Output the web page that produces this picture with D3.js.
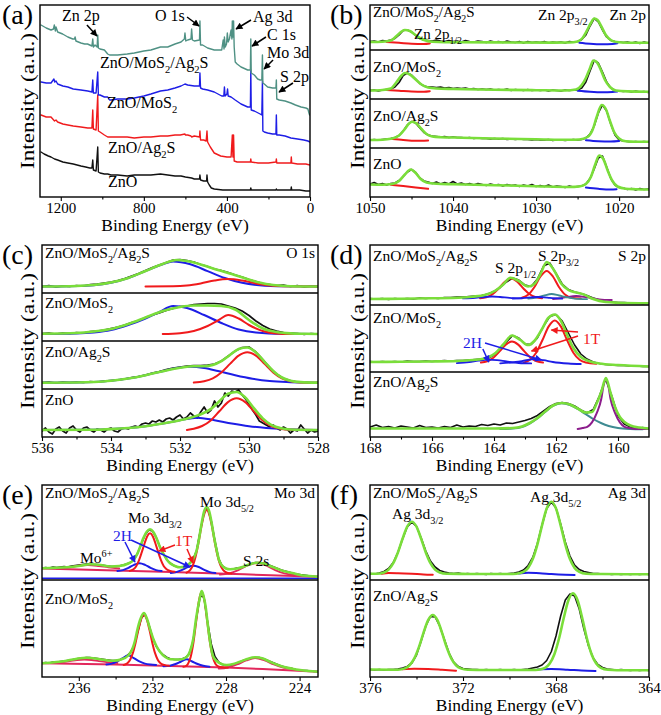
<!DOCTYPE html>
<html>
<head>
<meta charset="utf-8">
<script src="https://cdn.jsdelivr.net/npm/d3@7"></script>
<style>
  body { margin: 0; background: #fff; }
  svg { display: block; }
</style>
</head>
<body>
<svg id="chart" width="661" height="715" font-family="Liberation Serif, DejaVu Serif, serif"></svg>
<script>
// *** Data (binding energy in eV, intensity in arbitrary units, stacked per panel) ***

// helper: values read on a regular binding-energy grid
function grid(start, step, vals) {
  return vals.map((v, i) => [+(start - i * step).toFixed(2), v]);
}

// (a) survey
var surveyNames = ["ZnO/MoS{2}/Ag{2}S", "ZnO/MoS{2}", "ZnO/Ag{2}S", "ZnO"];
var surveyTicks = [1200, 800, 400, 0];
var surveyMinor = [1000, 600, 200];
var surveyTeal = [[1295,172],[1270,169],[1247,167],[1235,168],[1231,172],[1226,166],[1223,170],[1215,165],[1191,163],[1166,160],[1142,158],[1134,158],[1131,160],[1127,156],[1103,154],[1085,153],[1071,153],[1050,151],[1046,158],[1043,150],[1035,152],[1025,150],[1022,162],[1019,149],[1011,148],[990,147],[974,143],[965,142],[958,142],[926,142],[880,143],[846,144],[800,146],[766,147],[720,150],[685,150],[650,153],[621,155],[605,158],[602,164],[598,156],[589,157],[573,158],[570,168],[566,157],[557,156],[532,157],[530,176],[527,152],[517,152],[493,149],[461,147],[425,147],[418,157],[414,148],[412,160],[408,150],[402,153],[398,164],[394,155],[388,158],[380,167],[376,158],[374,176],[371,160],[368,176],[365,150],[360,135],[351,133],[332,130],[300,127],[287,127],[285,158],[283,124],[268,122],[252,118],[240,117],[232,117],[229,142],[227,114],[220,113],[204,110],[180,109],[164,109],[162,117],[160,98],[148,97],[120,96],[92,94],[70,92],[43,90],[20,89],[10,88],[5,84],[2,82],[0,82]];
var surveyBlue = [[1295,115],[1270,114],[1247,114],[1233,118],[1229,115],[1223,116],[1215,113],[1190,111],[1166,110],[1140,108],[1103,107],[1070,106],[1050,105],[1046,117],[1043,104],[1030,104],[1022,125],[1019,102],[1011,102],[990,100],[974,100],[965,97],[958,97],[926,98],[880,98],[846,99],[800,101],[766,103],[720,106],[685,107],[650,109],[621,111],[602,113],[589,112],[557,111],[532,111],[530,124],[527,109],[517,108],[493,107],[461,105],[425,101],[415,101],[412,110],[409,101],[400,103],[397,108],[394,101],[380,100],[360,97],[332,93],[300,90],[287,90],[285,127],[283,87],[268,86],[240,83],[232,82],[229,116],[227,66],[220,65],[204,64],[180,63],[164,63],[162,82],[160,62],[148,62],[120,61],[92,59],[60,58],[30,57],[10,56],[0,55]];
var surveyRed = [[1295,82],[1270,80],[1247,80],[1230,76],[1223,77],[1215,75],[1190,73],[1166,72],[1140,71],[1103,70],[1070,69],[1050,69],[1046,87],[1043,68],[1030,67],[1022,102],[1019,66],[1011,65],[990,62],[974,60],[958,60],[926,60],[880,60],[846,59],[800,60],[766,60],[720,61],[685,61],[650,62],[625,62],[602,63],[600,62],[589,62],[573,61],[570,60],[557,61],[532,60],[530,66],[527,57],[512,57],[500,56],[496,66],[493,55],[480,50],[461,44],[430,41],[400,40],[380,40],[374,62],[371,40],[368,62],[365,36],[351,35],[320,35],[287,35],[285,38],[283,35],[250,34],[220,34],[200,34],[164,35],[162,38],[160,34],[140,34],[92,34],[90,40],[88,34],[60,33],[20,33],[0,32]];
var surveyBlack = [[1295,45],[1280,43],[1260,41],[1247,40],[1230,38],[1215,37],[1190,35],[1166,34],[1140,33],[1103,31],[1080,30],[1060,29],[1050,29],[1046,37],[1043,27],[1030,26],[1022,50],[1019,25],[1011,24],[990,23],[974,23],[958,22],[926,22],[880,21],[846,22],[800,22],[766,22],[720,23],[685,22],[650,21],[621,21],[600,20],[570,19],[557,18],[532,18],[530,22],[527,17],[512,16],[498,16],[496,22],[493,15],[485,12],[475,9],[461,8],[420,7],[380,7],[340,7],[300,7],[287,7],[285,9],[283,7],[250,7],[200,7],[164,7],[162,8],[160,7],[120,7],[92,7],[90,10],[88,7],[50,7],[20,6],[0,6]];

// (b) Zn 2p
var sampleNames4 = ["ZnO/MoS{2}/Ag{2}S", "ZnO/MoS{2}", "ZnO/Ag{2}S", "ZnO"];
var znTicks = [1050, 1040, 1030, 1020];
var znMinor = [1045, 1035, 1025];
var znBlack1 = [155.5,156,155,156.5,156,157,158.5, 162,166.5,167,165,161.5,158.5,157,156.5,156,157,156,155.5,156.5,155.5, 156,155,156.5,155.5,155,156,155.5,154.5,156,155, 155.5,154.5,156,155,154.5,155.5,154,155.5,154.5,155, 154.5,155.5,154,155,154.5,155,154,155.5,155,155.5, 157.5,162,171,178.5,175,167,160,156.5,155.5,155, 154.5,155,154,155,153.5,155,154];
var znBlack2 = [106.5,107,106,107,107.5,108,110, 114.5,121.5,124,122,118,113.5,111,110,110,109.5,110,109,109.5,108.5, 109,108.5,109,108,108.5,107.5,108,107.5,108,107, 107.5,107,108,106.5,107.5,107,106.5,107.5,106.5,107, 106.5,107,106,107,106.5,106,107,106.5,107,107, 109,115,126,136.5,134,125,115,109,106.5,106, 105.5,106,105,106,105,105.5,104.5];
var znBlack3 = [57,57.5,57,57.5,58,58.5,59.5, 61.5,66,72,75.5,74,69,64.5,62,61,60.5,60,60.5,59.5,60, 59.5,59.5,59,59.5,58.5,59,58.5,58.5,58,58.5, 58,58.5,57.5,58,57.5,58,57.5,57.5,57,57.5, 57,57,57.5,56.5,57,57,56.5,57,57.5,57, 57.5,59,63,71,84,92,86,73,62,57, 56,55.5,55,55.5,55,55.5,55];
var znBlack4 = [13,14.5,12.5,13.5,12,13.5,14, 16.5,20.5,25,27.5,24.5,19,16,15,13.5,15,13,14.5,13,15.5, 13,14,12.5,13.5,12,13.5,12.5,11.5,13,12, 12.5,11,12.5,11.5,12,10.5,12,11,12.5,10.5, 11.5,10.5,12,10,11,10.5,9.5,11,10,10.5, 11,13,18.5,28,39,41,30,18.5,12,9.5, 9,7.5,8.5,7,8.5,7.5,8];
var znFit1 = [[1050,155],[1048.5,155.3],[1047.5,156.5],[1046.8,161],[1046.2,165.5],[1045.8,167],[1045.2,166],[1044.6,162.5],[1044,159],[1043.3,156.5],[1042.5,155.2],[1041,154.8],[1035,154.6],[1028,154.4],[1026,154.5],[1025,155.5],[1024.4,159],[1023.9,166],[1023.4,174],[1023,178.5],[1022.6,177],[1022.1,170],[1021.6,162],[1021,157],[1020.3,155],[1019,154.3],[1016.4,154.2]];
var znFit2 = [[1050,106.5],[1048.5,107],[1047.5,108.5],[1046.8,115],[1046.2,121.5],[1045.8,124],[1045.2,122.5],[1044.5,117.5],[1043.8,112.5],[1043,109.5],[1042,108.5],[1040,108],[1035,107.3],[1030,106.8],[1026.5,106.5],[1025.2,107.5],[1024.5,112],[1024,119],[1023.5,129],[1023.1,136.5],[1022.7,135],[1022.2,127],[1021.7,117],[1021.1,110],[1020.4,106.5],[1019,105.6],[1016.4,105.3]];
var znFit3 = [[1050,57],[1048.5,57.3],[1047.5,58.2],[1046.5,61.5],[1045.8,68],[1045.3,73.5],[1044.9,75.3],[1044.4,73.5],[1043.8,68],[1043.2,63],[1042.5,60.5],[1041.5,59.8],[1039,59.3],[1035,58.5],[1030,57.8],[1026,57.2],[1024.8,57.5],[1023.8,60],[1023.2,67],[1022.7,80],[1022.1,92],[1021.6,88],[1021.1,76],[1020.6,65],[1020,58.5],[1019.2,55.8],[1018,55.3],[1016.4,55.3]];
var znFit4 = [[1050,12.5],[1048.5,12.3],[1047.3,13],[1046.5,16],[1045.8,22.5],[1045.1,27.5],[1044.5,24],[1043.9,18],[1043.2,14.5],[1042,13.3],[1040,12.8],[1035,11.8],[1030,10.8],[1026,10],[1024.8,10.5],[1024,13],[1023.4,20],[1022.9,32],[1022.4,41.5],[1021.9,38],[1021.4,27],[1020.8,16],[1020.2,10.5],[1019.2,8.3],[1018,7.8],[1016.4,7.5]];
var znRed1 = [[1048,155],[1046.5,154.2],[1045,153.3],[1043.5,153],[1042.8,153.5]];
var znRed2 = [[1048,107],[1046.5,106.3],[1045,105.5],[1043.5,105.3],[1042.8,105.8]];
var znRed3 = [[1047.3,58],[1046,57],[1044.5,56.2],[1043,56.5]];
var znRed4 = [[1047.5,12.3],[1046,11],[1044.5,9.5],[1043,8.2]];
var znBlue1 = [[1024.8,154.3],[1023.5,153.3],[1022,152.8],[1020.8,153],[1020.2,153.8]];
var znBlue2 = [[1025,106.3],[1023.5,105.3],[1022,104.8],[1020.8,105],[1020.2,105.5]];
var znBlue3 = [[1024,56.8],[1022.5,55.8],[1021,55.5],[1020,56]];
var znBlue4 = [[1024,9.5],[1022.5,8.2],[1021,7.5],[1020.3,7.8]];

// (c) O 1s
var oTicks = [536, 534, 532, 530, 528];
var oMinor = [535, 533, 531, 529];
var oBlack1 = [150.5,151.5,150,151,150.5,151.5,151,152.5,153,154, 155,156.5,158.5,161,163.5,166.5,169.5,172,174.5,177, 177.5,176.5,175,172.5,170.5,168,166.5,164.5,162,160, 157.5,155.5,153.5,152.5,151.5,152,150.5,151.5,150,151,150.5];
var oBlack2 = [103.5,104,103,104,103.5,104.5,104,105.5,106,107, 108.5,110,112,114.5,116.5,119.5,122,124,126.5,128.5, 130.5,131,132.5,133,133.5,133.5,133,131,129,126, 121.5,116,111.5,108,106,104.5,104,103.5,102.5,103.5,103];
var oBlack3 = [54.5,55,54,55,54.5,55,54.5,55.5,55,56, 56.5,57,58,59.5,60.5,62,64,65.5,67.5,69, 70,71,71.5,71.5,72,73,76,81,86,89.5, 90,85,77.5,69.5,63,58.5,56.5,55,55,54,54.5];
var oBlack4 = [6,9,5,3,8,10,6,4,9,11, 7,5,9,10,7,5,8,7,5,8, 9,6,5,8,9,8,10,11,10,13, 14,13,16,15,17,15,18,19,17,20, 22,18,20,24,21,19,25,30,24,27, 36,30,34,44,41,46,45,47,42,38, 33,27,22,16,14,12,10,12,9,7, 10,8,4,7,6,12,8,4,7,5, 6];
var oFit1 = [[536,150.5],[535,151],[534.5,152],[534,154.5],[533.5,159],[533,166],[532.5,173],[532.1,177],[531.8,176],[531.3,171.5],[530.9,167],[530.5,163],[530.1,158.5],[529.7,154.5],[529.3,152],[528.8,150.8],[528,150.5]];
var oBlue1 = [[536,150.5],[535.5,150.6],[534.5,151.8],[534,154.2],[533.5,159],[533,165.9],[532.5,172.7],[532.2,175.5],[531.7,172.7],[531.2,165.9],[530.7,159],[530.2,154.2],[529.7,151.8],[529,150.7],[528,150.5]];
var oRed1 = [[533,150.5],[532.2,150.7],[531.8,151.5],[531.4,153.6],[531,156.5],[530.6,158],[530.2,156.5],[529.8,153.6],[529.4,151.5],[529,150.7],[528,150.5]];
var oFit2 = [[536,103.3],[535,104],[534.5,105.5],[534,108],[533.5,113],[533,119.5],[532.5,126],[532,130],[531.6,131.5],[531.2,131.5],[530.8,131],[530.4,127.5],[530,117],[529.6,108.5],[529.2,105],[528.8,103.6],[528.4,103.2],[528,103]];
var oBlue2 = [[536,103],[535,103.5],[534.5,104.5],[534,107],[533.5,112],[533,118.5],[532.6,125],[532.2,131],[531.8,129],[531.3,122],[530.8,114],[530.3,107.5],[529.8,104.5],[529,103.2],[528,103]];
var oRed2 = [[532.5,103],[532,103.8],[531.6,106],[531.2,111],[530.9,116.5],[530.6,122],[530.3,118.5],[530,112],[529.6,106],[529.2,103.5],[528.8,103],[528,103]];
var oFit3 = [[536,54.3],[535,54.5],[534.5,55],[534,56.2],[533.5,58.5],[533,61.8],[532.5,65.8],[532,69.3],[531.6,70.8],[531.3,70.8],[531.05,72],[530.8,75.8],[530.55,82],[530.3,88],[530.05,89.5],[529.8,84.6],[529.55,75.2],[529.3,66],[529.05,59.5],[528.8,56.3],[528.5,54.9],[528,54.4]];
var oBlue3 = [[536,54.3],[535,54.5],[534.5,55],[534,56.2],[533.5,58.5],[533,61.8],[532.5,65.8],[532.1,69],[531.7,70.3],[531.3,69],[530.9,66],[530.4,61.8],[529.9,58.3],[529.4,56],[528.9,54.9],[528.3,54.4],[528,54.3]];
var oRed3 = [[531.6,54.4],[531.3,55.8],[531.05,58.7],[530.8,64.6],[530.55,73.1],[530.3,81.3],[530.05,84.7],[529.8,81.3],[529.55,73.1],[529.3,64.6],[529.05,58.7],[528.8,55.8],[528.5,54.6],[528,54.3]];
var oFit4 = [[536,7],[534.5,7.3],[534,7.9],[533.5,9],[533,10.8],[532.5,13.5],[532,16.8],[531.6,20.3],[531.36,23.2],[531.1,28.1],[530.86,35.7],[530.61,43.2],[530.36,45],[530.11,39.6],[529.86,28.9],[529.61,18.9],[529.36,12.2],[529.1,9],[528.8,7.5],[528,7]];
var oBlue4 = [[536,7],[534.5,7.3],[534,7.9],[533.5,9],[533,10.8],[532.5,13.5],[532,16.8],[531.5,19.3],[531,16.8],[530.5,13.5],[530,10.8],[529.5,9],[529,7.9],[528.5,7.3],[528,7]];
var oRed4 = [[531.8,7.1],[531.6,8.3],[531.36,11],[531.1,16.8],[530.86,25.7],[530.61,34.9],[530.36,38.7],[530.11,34.9],[529.86,25.7],[529.61,16.8],[529.36,11],[529.1,8.3],[528.8,7.2],[528,7]];

// (d) S 2p
var sNames = ["ZnO/MoS{2}/Ag{2}S", "ZnO/MoS{2}", "ZnO/Ag{2}S"];
var sTicks = [168, 166, 164, 162, 160];
var sMinor = [167, 165, 163, 161];
var sBlack1 = [138.5,138,138.5,137.5,138.5,138,138.5,138,139,138.5, 139,138.5,139.5,139.5,140,140,140.5,141,141.5,143, 145.5,149.5,155,159,157,152,150.5,158,171,174, 163.5,153,147.5,145,143.5,141.5,139,137,135.5,135, 134.5,134.5,134,134,133.5,134];
var sBlack2 = [75.5,75,75.5,75,75.5,75,76,75.5,75.5,76, 75.5,76,76.5,76,76.5,76.5,77,77.5,78,78.5, 82,87.5,95,101.5,99,93,92.5,99,111,120.5, 122.5,116,104,92,83,78,75,73.5,72.5,72, 71.5,71.5,71,71,70.5,70.5];
var sBlack3 = [10,12,9.5,10.5,9,11,10,9,11.5,9.5, 10,9,10.5,9.5,12,10,11,10.5,12.5,11.5, 13,12,14,13.5,15,16.5,18.5,21.5,26,30.5, 33.5,34.5,33.5,31,27,24,27.5,41,58,41, 21,13,10,8.5,9.5,8];
var sFit1 = [[168,138],[167,138.3],[166,138.7],[165,139.5],[164.7,140.3],[164.27,142.3],[163.95,146.5],[163.7,152.5],[163.47,159.3],[163.2,156],[162.9,150.5],[162.7,153],[162.5,163],[162.3,175],[162.05,166],[161.82,153],[161.6,147],[161.35,144.5],[161.1,142.5],[160.8,138],[160.4,135],[160,134.3],[159,133.7]];
var sRedA1 = [[164.45,138.8],[164.25,139.8],[164.05,142.7],[163.85,148.5],[163.65,155.3],[163.45,158.5],[163.25,155.3],[163.05,148.5],[162.85,142.7],[162.65,139.8],[162.45,138.8]];
var sRedB1 = [[163.1,139.3],[162.9,142.2],[162.7,149.8],[162.5,160.5],[162.3,166],[162.1,160.5],[161.9,149.8],[161.7,142.2],[161.5,139.3],[161.2,138.5]];
var sBlueA1 = [[165,138.6],[164.6,139.2],[164.3,140],[164.06,140.5],[163.8,140],[163.5,139.2],[163.1,138.6]];
var sBlueB1 = [[163.4,138.5],[163,139.2],[162.8,139.7],[162.6,140],[162.4,139.7],[162.2,139.2],[161.8,138.4]];
var sCyan1 = [[162.9,138.4],[162.6,139.7],[162.4,141.3],[162.14,143],[161.9,141.5],[161.65,139.7],[161.4,138.4],[161,137.8]];
var sPurple1 = [[162.1,138],[161.8,139],[161.6,140.2],[161.35,141],[161.1,140.2],[160.9,139],[160.6,137.7],[160.2,137]];
var sFit2 = [[168,75],[167,75.2],[166,75.5],[165,76.3],[164.5,77.5],[164.2,79.5],[163.95,84],[163.7,92.5],[163.42,101.5],[163.15,97],[162.9,92],[162.7,96],[162.45,108],[162.25,119],[162.04,122.5],[161.84,116],[161.64,102],[161.44,89],[161.2,80],[160.9,75.5],[160.6,73.5],[160,72],[159,70.5]];
var sRedA2 = [[164.42,74.4],[164.22,75.8],[164.02,79.3],[163.82,85.6],[163.62,92.4],[163.42,95.5],[163.22,92.4],[163.02,85.6],[162.82,79.3],[162.62,75.8],[162.42,74.4]];
var sRedB2 = [[163.04,74.4],[162.84,77.2],[162.64,84.3],[162.44,96.7],[162.24,110.4],[162.04,116.5],[161.84,110.4],[161.64,96.7],[161.44,84.3],[161.24,77.2],[161.04,74.4],[160.7,73.3]];
var sBlueA2 = [[165.2,73.8],[164.8,75],[164.5,76.3],[164.2,77.3],[163.9,76.8],[163.6,75.5],[163.2,74],[162.8,73.6]];
var sBlueB2 = [[163.8,73.7],[163.3,75],[163,76.5],[162.7,78],[162.4,76.8],[162.1,75],[161.6,73.5],[161.2,73]];
var sFit3 = [[168,8.5],[165,8.5],[164,8.5],[163.4,9],[163.1,10.5],[162.85,14],[162.6,19],[162.35,25.5],[162.1,31.5],[161.82,34],[161.55,32.5],[161.3,28.5],[161.05,24.5],[160.84,25],[160.69,33.5],[160.54,45],[160.39,59],[160.24,44],[160.09,29.5],[159.94,20],[159.79,15],[159.6,11.5],[159.3,9.5],[159,8.5]];
var sCyan3 = [[163.8,8],[163.4,8.5],[163.1,10],[162.85,13.5],[162.6,18.5],[162.35,25],[162.1,31],[161.82,33.7],[161.55,32],[161.3,28],[161.05,23],[160.8,18],[160.55,14],[160.3,11],[160,9],[159.6,8],[159.2,7.7]];
var sPurple3 = [[161.3,8.1],[161.14,9],[160.99,10.2],[160.84,14.6],[160.69,23.7],[160.54,38],[160.47,51],[160.39,57],[160.31,51],[160.24,38],[160.09,23.7],[159.94,14.6],[159.79,10.2],[159.64,9],[159.4,8.1],[159,8]];

// (e) Mo 3d
var mNames = ["ZnO/MoS{2}/Ag{2}S", "ZnO/MoS{2}"];
var mTicks = [236, 232, 228, 224];
var mMinor = [234, 230, 226];
var mBlack1 = [109,109.5,109,110,109.5,110,110.5,110,111,111.5, 112,112.5,113,113,112.5,112.5,112,111.5,111,110.5, 110.5,111,112,113,114.5,117.5,124,133,142,147, 146,140,130.5,123,117,113.5,111,110,110,110.5, 113,117,126.5,146,164,169.5,156,136,118.5,111, 108.5,108,108,109,109.5,110.5,112,113.5,114.5,114.5, 114,113,111.5,110,108.5,107,106,105,104,103, 102.5,102,101.5,101,100.5,100.5];
var mBlack2 = [14,14.5,14,15,15,15.5,16,16.5,17,18, 18.5,19,19.5,19.5,19,18.5,18,17.5,17,16.5, 16.5,17,18.5,21,24.5,31,45,59,63,53, 40,31,25.5,22,19.5,18,17.5,17.5,18,19.5, 23,35,60,81,80,55,33,20.5,15,12.5, 11.5,11.5,12.5,14,15.5,17,18,19,19.5,19.5, 18.5,17,15.5,14,12.5,11,10,9,8.5,7.5, 7,6.5,6.5,6,5.5,5.5];
var mFit1 = [[238,108.7],[236.66,109.7],[235.9,111.3],[235.39,112.7],[234.8,112],[234.3,110.5],[233.8,111],[233.31,113.5],[233.05,116.5],[232.85,122],[232.65,131],[232.49,139],[232.3,145.5],[232.13,147.7],[231.95,145],[231.77,138.5],[231.59,130],[231.41,123.5],[231.22,117.5],[231.04,113.7],[230.75,110.8],[230.5,109.7],[230.25,110.5],[230.05,112.3],[229.82,117],[229.59,127],[229.45,140],[229.32,154],[229.18,166],[229.05,169.7],[228.92,166],[228.78,154],[228.65,140],[228.51,127],[228.38,117],[228.24,112],[228,108.5],[227.78,107.7],[227.4,108.5],[227.06,110.3],[226.7,112.8],[226.33,114.3],[225.97,113.5],[225.61,111],[225.25,108.5],[224.89,106],[224.4,104],[223.98,102],[223.5,101],[223,100.3]];
var mBase1 = [[238,108.5],[234,106.5],[231,105],[228,103.3],[226,102],[223,100.3]];
var mFloor1 = [[238,98.8],[223,98.8]];
var mRedA1 = [[233.23,106.1],[233.03,107.8],[232.88,110.8],[232.73,116.6],[232.58,124.6],[232.43,133.3],[232.28,140.8],[232.13,143.7],[231.98,140.8],[231.83,133.3],[231.68,124.6],[231.53,116.6],[231.38,110.8],[231.23,107.8],[231.03,106],[230.8,105.3]];
var mRedB1 = [[230.15,104.3],[229.95,106.8],[229.8,111.6],[229.65,120.6],[229.5,133.8],[229.35,149.2],[229.2,161.9],[229.05,167],[228.9,161.9],[228.75,149.2],[228.6,133.8],[228.45,120.6],[228.3,111.6],[228.15,106.8],[227.95,104.3],[227.7,103.5]];
var mBlueA1 = [[233.9,106],[233.6,106.9],[233.3,109.1],[233,112.2],[232.7,113.8],[232.4,112.2],[232.1,109.1],[231.8,106.9],[231.5,106]];
var mBlueB1 = [[231,104],[230.7,104.9],[230.38,107.1],[230.08,110],[229.78,111.3],[229.48,110],[229.18,107.1],[228.88,104.9],[228.58,104]];
var mMo6Plus1 = [[237.2,108.5],[236.6,109.4],[236.1,111],[235.5,112],[234.9,111],[234.4,109.7],[233.8,108.5]];
var mS2s1 = [[228.33,102.4],[227.83,103.6],[227.33,106.9],[226.83,111.6],[226.33,114],[225.83,111.6],[225.33,106.9],[224.83,103.6],[224.33,102.4]];
var mFit2 = [[238,13.7],[236.66,16.3],[236.1,18.3],[235.57,19.3],[235.2,18.8],[234.85,17.7],[234.12,16.3],[233.7,17.5],[233.31,21.5],[233.1,27.5],[232.95,36],[232.8,48.5],[232.67,57],[232.46,64],[232.3,58.5],[232.12,47.5],[231.95,38],[231.77,30.5],[231.59,25.3],[231.3,20],[231.04,17.7],[230.5,17.5],[230.14,20],[229.95,26],[229.78,38],[229.62,59],[229.5,72],[229.4,81],[229.32,86],[229.22,81],[229.09,68],[229.02,57],[228.87,36],[228.72,21.5],[228.51,16],[228.25,13],[227.96,12],[227.6,13],[227.24,15.3],[226.85,18],[226.42,19.7],[226,18.5],[225.61,15.3],[225.25,12.5],[224.89,10.3],[224.4,8.3],[223.98,7],[223.5,6],[223,5.3]];
var mBase2 = [[238,13.7],[234,12.5],[231,11],[228,9.5],[226,8],[223,5.3]];
var mRedA2 = [[233.56,12],[233.36,13.7],[233.21,17.3],[233.06,24.1],[232.91,34.6],[232.76,47.2],[232.61,57.8],[232.46,62],[232.31,57.8],[232.16,47.2],[232.01,34.6],[231.86,24.1],[231.71,17.3],[231.56,13.7],[231.36,12],[231.1,11.2]];
var mRedB2 = [[230.32,10.3],[230.22,10.6],[230.07,13.1],[229.92,20],[229.77,34.3],[229.62,55.6],[229.47,76.4],[229.32,85.3],[229.17,76.4],[229.02,55.6],[228.87,34.3],[228.72,20],[228.57,13.1],[228.42,10.6],[228.2,9.8],[227.9,9.5]];
var mBlueA2 = [[234.5,12.5],[234.2,13.4],[233.91,15.6],[233.61,18.8],[233.31,21.8],[233.01,18.8],[232.71,15.6],[232.41,13.4],[232.1,12.4],[231.8,12]];
var mBlueB2 = [[231.4,10.7],[231.05,11.3],[230.74,13],[230.44,15.5],[230.14,17.7],[229.84,15.5],[229.54,13],[229.24,11.3],[228.9,10.3]];
var mMo6Plus2 = [[237.5,14.2],[237,14.7],[236.5,15.8],[236.1,17],[235.7,17.5],[235.3,17],[234.9,15.8],[234.4,14.7],[233.9,14]];
var mS2s2 = [[228.4,8.3],[227.9,9.5],[227.4,12.5],[226.9,16.5],[226.42,19],[225.9,16.5],[225.4,12.5],[224.9,9.5],[224.4,8.3]];

// (f) Ag 3d
var aNames = ["ZnO/MoS{2}/Ag{2}S", "ZnO/Ag{2}S"];
var aTicks = [376, 372, 368, 364];
var aMinor = [374, 370, 366];
var aBlack1 = [103.5,103,104,105.5,108.5,114.5,124.5,138,150,155, 150.5,139,126,116,110,106.5,105,104,103.5,104, 103,103.5,103,103.5,103,102.5,103.5,103,103.5,103, 103.5,104,105,107,111.5,119.5,133.5,152,168.5,175, 169,153,135,121,112,107.5,105.5,104.5,103.5,103.5, 103,103,102.5,103,102.5,103,102.5,103,102.5,103, 102.5];
var aBlack2 = [7.5,7,7.5,7,7.5,7.5,8,9,10.5,14, 22,36,51,60.5,60,51,37.5,24,15,10.5, 8.5,8,7.5,7.5,7,7.5,7,7,7.5,7, 7,7.5,7,7.5,8,9,10,12,16.5,25.5, 41,61,77,83,81,68,48,31,19,12.5, 9.5,8,7.5,7,7.5,7,6.5,7,6.5,7, 6.5];
var aFit1 = [[376,103.2],[375.7,103.2],[375.4,104.5],[375.2,107.4],[375,113.8],[374.8,124.5],[374.6,138.2],[374.4,150.4],[374.2,155.3],[374,150.4],[373.8,138.2],[373.6,124.5],[373.4,113.8],[373.2,107.4],[373,104.5],[372.7,103.2],[372,103.1],[371,103],[370,103],[369.7,103.3],[369.4,105.1],[369.2,109.1],[369,117.9],[368.8,132.7],[368.6,151.7],[368.4,168.5],[368.2,175.3],[368,168.5],[367.8,151.7],[367.6,132.7],[367.4,117.9],[367.2,109.1],[367,105.1],[366.7,103.3],[366,103],[365,102.8],[364,102.8]];
var aRed1 = [[375.5,103.3],[375.2,104],[374.8,103.8],[374.2,103.2],[373.7,102.5],[373.3,102.2]];
var aBlue1 = [[369.6,103.5],[369.2,104.2],[368.7,103.8],[368.2,103],[367.6,102.3],[367.2,102]];
var aFit2 = [[376,7.5],[375,7.3],[374.8,7.2],[374.5,8.6],[374.3,11.7],[374.1,18.3],[373.9,29.6],[373.7,44.1],[373.5,56.8],[373.3,62],[373.1,56.8],[372.9,44.1],[372.7,29.6],[372.5,18.3],[372.3,11.7],[372.1,8.6],[371.8,7.2],[371,7],[370,7],[369,7],[368.77,7.3],[368.47,9.2],[368.27,13.5],[368.07,22.8],[367.87,38.5],[367.67,58.7],[367.47,76.5],[367.27,83.7],[367.07,76.5],[366.87,58.7],[366.67,38.5],[366.47,22.8],[366.27,13.5],[366.07,9.2],[365.77,7.3],[365,6.8],[364,6.8]];
var aRed2 = [[374.6,7.8],[374.1,8.3],[373.5,8],[372.9,7.2],[372.3,6.3]];
var aBlue2 = [[368.8,7.6],[368.2,8],[367.5,7.3],[366.9,6.5],[366.3,6]];

// *** Styles ***
var FONT = "Liberation Serif, DejaVu Serif, serif";
var GREEN = "#7ade3a", RED = "#f01a1c", BLUE = "#1d1de6", TEAL = "#4f9184",
    PURPLE = "#8c1d8c", CYAN = "#3f8b92", PINK = "#e2285c", INK = "#111";

// *** Chart building ***
var svg = d3.select("#chart");
svg.append("rect").attr("width", 661).attr("height", 715).attr("fill", "#fff");
var defs = svg.append("defs");

[["k", "#000"], ["b", BLUE], ["r", RED]].forEach(function (m) {
  defs.append("marker")
    .attr("id", "head-" + m[0])
    .attr("viewBox", "0 0 10 10")
    .attr("refX", 9).attr("refY", 5)
    .attr("markerUnits", "userSpaceOnUse")
    .attr("markerWidth", 8).attr("markerHeight", 7)
    .attr("orient", "auto")
    .append("path").attr("d", "M0,0 L10,5 L0,10 Z").attr("fill", m[1]);
});

function parseRich(s) {
  var out = [], re = /\^\{([^}]*)\}|\{([^}]*)\}|([^{^]+)/g, m;
  while ((m = re.exec(s))) {
    if (m[1] !== undefined) out.push([m[1], 2]);
    else if (m[2] !== undefined) out.push([m[2], 1]);
    else out.push([m[3], 0]);
  }
  return out;
}

function label(x, y, s, size, color, anchor) {
  var t = svg.append("text").attr("x", x).attr("y", y)
    .attr("font-family", FONT)
    .attr("font-size", size).attr("fill", color || "#000")
    .attr("text-anchor", anchor || "start");
  var shift = 0;
  parseRich(s).forEach(function (p) {
    var target = p[1] === 1 ? size * 0.3 : p[1] === 2 ? -size * 0.4 : 0;
    t.append("tspan").attr("dy", target - shift)
      .attr("font-size", p[1] ? size * 0.66 : size).text(p[0]);
    shift = target;
  });
  return t;
}

function makePanel(o) {
  var x = d3.scaleLinear().domain(o.domain).range([o.left, o.right]);
  var y = d3.scaleLinear().domain([0, 192]).range([o.bottom, o.top]);
  var id = "clip-" + o.id;
  defs.append("clipPath").attr("id", id).append("rect")
    .attr("x", o.left).attr("y", o.top)
    .attr("width", o.right - o.left).attr("height", o.bottom - o.top);
  var plot = svg.append("g").attr("clip-path", "url(#" + id + ")");

  var minorG = svg.append("g").attr("transform", "translate(0," + o.bottom + ")")
    .call(d3.axisBottom(x).tickValues(o.minor).tickSize(2.5).tickFormat(""));
  var majorG = svg.append("g").attr("transform", "translate(0," + o.bottom + ")")
    .call(d3.axisBottom(x).tickValues(o.major).tickSize(4).tickPadding(1.5).tickFormat(d3.format("d")));
  [minorG, majorG].forEach(function (a) {
    a.select(".domain").remove();
    a.selectAll("line").attr("stroke", "#000").attr("stroke-width", 1.1);
  });
  majorG.attr("font-family", FONT).attr("font-size", 15);
  majorG.selectAll("text").attr("font-family", FONT).attr("font-size", 15).attr("fill", "#000");

  svg.append("text").attr("x", (o.left + o.right) / 2).attr("y", o.bottom + 34)
    .attr("font-family", FONT)
    .attr("text-anchor", "middle").attr("font-size", 17.5).text("Binding Energy (eV)");
  svg.append("text")
    .attr("transform", "translate(" + o.yTitleX + "," + (o.top + o.bottom) / 2 + ") rotate(-90)")
    .attr("font-family", FONT)
    .attr("text-anchor", "middle").attr("font-size", 19)
    .attr("textLength", 136).attr("lengthAdjust", "spacingAndGlyphs")
    .text("Intensity (a.u.)");
  svg.append("text").attr("x", o.letterX).attr("y", o.top + 19)
    .attr("font-family", FONT)
    .attr("font-size", 28).text(o.letter);

  return {x: x, y: y, plot: plot, o: o};
}

function finishPanel(p) {
  var o = p.o;
  o.divs.forEach(function (d) {
    svg.append("line").attr("x1", o.left).attr("x2", o.right).attr("y1", d).attr("y2", d)
      .attr("stroke", "#000").attr("stroke-width", 1.3);
  });
  svg.append("rect").attr("x", o.left).attr("y", o.top)
    .attr("width", o.right - o.left).attr("height", o.bottom - o.top)
    .attr("fill", "none").attr("stroke", "#000").attr("stroke-width", 1.4);
}

function trace(p, pts, color, w, smooth) {
  var line = d3.line().x(d => p.x(d[0])).y(d => p.y(d[1]))
    .curve(smooth ? d3.curveMonotoneX : d3.curveLinear);
  p.plot.append("path").datum(pts)
    .attr("fill", "none").attr("stroke", color).attr("stroke-width", w)
    .attr("stroke-linejoin", "round").attr("stroke-linecap", "round")
    .attr("d", line);
}

function arrow(p, from, to, key, color) {
  svg.append("line")
    .attr("x1", p.x(from[0])).attr("y1", p.y(from[1]))
    .attr("x2", p.x(to[0])).attr("y2", p.y(to[1]))
    .attr("stroke", color).attr("stroke-width", 1.5)
    .attr("marker-end", "url(#head-" + key + ")");
}

// ---- (a) survey ----
var pa = makePanel({id: "a", left: 40, right: 310, top: 5, bottom: 197, domain: [1300, 0],
  major: surveyTicks, minor: surveyMinor, divs: [], letter: "(a)", letterX: 2, yTitleX: 34});
trace(pa, surveyBlack, INK, 1.4, false);
trace(pa, surveyRed, RED, 1.4, false);
trace(pa, surveyBlue, BLUE, 1.4, false);
trace(pa, surveyTeal, TEAL, 1.4, false);
finishPanel(pa);
label(100, 68, surveyNames[0], 16);
label(107, 108, surveyNames[1], 16);
label(108, 153, surveyNames[2], 16);
label(108, 187, surveyNames[3], 16);
label(62, 21, "Zn 2p", 16);
label(155, 21, "O 1s", 16);
label(253, 22, "Ag 3d", 16);
label(267, 40, "C 1s", 16);
label(267, 58, "Mo 3d", 16);
label(280, 82, "S 2p", 16);
arrow(pa, [1074, 172], [1026, 161], "k", "#000");
arrow(pa, [592, 180], [534, 171], "k", "#000");
arrow(pa, [284, 177], [356, 168], "k", "#000");
arrow(pa, [212, 160], [279, 151], "k", "#000");
arrow(pa, [178, 137], [221, 128], "k", "#000");
arrow(pa, [82, 114], [149, 105], "k", "#000");

// ---- (b) Zn 2p ----
var pb = makePanel({id: "b", left: 370, right: 649, top: 5, bottom: 197, domain: [1050, 1016.4],
  major: znTicks, minor: znMinor, divs: [50, 99, 148], letter: "(b)", letterX: 330, yTitleX: 364});
[[znBlack1, znFit1, znRed1, znBlue1], [znBlack2, znFit2, znRed2, znBlue2],
 [znBlack3, znFit3, znRed3, znBlue3], [znBlack4, znFit4, znRed4, znBlue4]].forEach(function (s) {
  trace(pb, grid(1050, 0.5, s[0]), INK, 1.6, false);
  trace(pb, s[2], RED, 2, true);
  trace(pb, s[3], BLUE, 2, true);
  trace(pb, s[1], GREEN, 2.6, true);
});
finishPanel(pb);
label(373, 17, sampleNames4[0], 15);
label(373, 72, sampleNames4[1], 15.5);
label(373, 121, sampleNames4[2], 15.5);
label(373, 169, sampleNames4[3], 15.5);
label(646, 20, "Zn 2p", 15.5, "#000", "end");
label(538, 20, "Zn 2p{3/2}", 15.5);
label(414, 39, "Zn 2p{1/2}", 15);

// ---- (c) O 1s ----
var pc = makePanel({id: "c", left: 42, right: 318, top: 245, bottom: 437, domain: [536, 528],
  major: oTicks, minor: oMinor, divs: [293, 341, 389], letter: "(c)", letterX: 2, yTitleX: 34});
[[grid(536, 0.2, oBlack1), oFit1, oRed1, oBlue1], [grid(536, 0.2, oBlack2), oFit2, oRed2, oBlue2],
 [grid(536, 0.2, oBlack3), oFit3, oRed3, oBlue3], [grid(536, 0.1, oBlack4), oFit4, oRed4, oBlue4]].forEach(function (s) {
  trace(pc, s[0], INK, 1.7, false);
  trace(pc, s[3], BLUE, 2, true);
  trace(pc, s[2], RED, 2, true);
  trace(pc, s[1], GREEN, 2.6, true);
});
finishPanel(pc);
label(45, 258, sampleNames4[0], 15.5);
label(45, 308, sampleNames4[1], 15.5);
label(45, 357, sampleNames4[2], 15.5);
label(45, 405, sampleNames4[3], 15.5);
label(315, 258, "O 1s", 15.5, "#000", "end");

// ---- (d) S 2p ----
var pd = makePanel({id: "d", left: 370, right: 649, top: 245, bottom: 437, domain: [168, 159],
  major: sTicks, minor: sMinor, divs: [305, 372], letter: "(d)", letterX: 330, yTitleX: 364});
trace(pd, grid(168, 0.2, sBlack1), INK, 1.6, false);
trace(pd, sRedA1, RED, 2, true);
trace(pd, sRedB1, RED, 2, true);
trace(pd, sPurple1, PURPLE, 1.8, true);
trace(pd, sCyan1, CYAN, 1.8, true);
trace(pd, sBlueA1, BLUE, 1.8, true);
trace(pd, sBlueB1, BLUE, 1.8, true);
trace(pd, sFit1, GREEN, 2.6, true);
trace(pd, grid(168, 0.2, sBlack2), INK, 1.6, false);
trace(pd, sRedA2, RED, 2, true);
trace(pd, sRedB2, RED, 2, true);
trace(pd, sBlueA2, BLUE, 1.8, true);
trace(pd, sBlueB2, BLUE, 1.8, true);
trace(pd, sFit2, GREEN, 2.6, true);
trace(pd, grid(168, 0.2, sBlack3), INK, 1.6, false);
trace(pd, sCyan3, CYAN, 2, true);
trace(pd, sPurple3, PURPLE, 2, true);
trace(pd, sFit3, GREEN, 2.6, true);
finishPanel(pd);
label(373, 261, sNames[0], 15.5);
label(373, 323, sNames[1], 15.5);
label(373, 387, sNames[2], 15.5);
label(646, 261, "S 2p", 15.5, "#000", "end");
label(538, 261, "S 2p{3/2}", 15.5);
label(495, 273, "S 2p{1/2}", 15.5);
label(463, 348, "2H", 15.5, BLUE);
label(583, 344, "1T", 15.5, RED);
arrow(pd, [164.36, 88], [164.17, 75], "b", BLUE);
arrow(pd, [164.29, 94], [162.47, 77], "b", BLUE);
arrow(pd, [161.29, 105], [162.15, 107], "r", RED);
arrow(pd, [161.29, 101], [162.79, 86], "r", RED);

// ---- (e) Mo 3d ----
var pe = makePanel({id: "e", left: 42, right: 318, top: 485, bottom: 677, domain: [238, 223],
  major: mTicks, minor: mMinor, divs: [580], letter: "(e)", letterX: 2, yTitleX: 34});
trace(pe, grid(238, 0.2, mBlack1), INK, 1.6, false);
trace(pe, mFloor1, BLUE, 1.5, false);
trace(pe, mBase1, PINK, 2, true);
trace(pe, mMo6Plus1, PINK, 1.8, true);
trace(pe, mS2s1, PINK, 1.8, true);
trace(pe, mBlueA1, BLUE, 2, true);
trace(pe, mBlueB1, BLUE, 2, true);
trace(pe, mRedA1, RED, 2, true);
trace(pe, mRedB1, RED, 2, true);
trace(pe, mFit1, GREEN, 2.6, true);
trace(pe, grid(238, 0.2, mBlack2), INK, 1.6, false);
trace(pe, mBase2, PINK, 2, true);
trace(pe, mMo6Plus2, PINK, 1.8, true);
trace(pe, mS2s2, PINK, 1.8, true);
trace(pe, mBlueA2, BLUE, 2, true);
trace(pe, mBlueB2, BLUE, 2, true);
trace(pe, mRedA2, RED, 2, true);
trace(pe, mRedB2, RED, 2, true);
trace(pe, mFit2, GREEN, 2.6, true);
finishPanel(pe);
label(45, 498, mNames[0], 15.5);
label(45, 604, mNames[1], 15.5);
label(315, 498, "Mo 3d", 15.5, "#000", "end");
label(200, 507, "Mo 3d{5/2}", 15.5);
label(128, 523, "Mo 3d{3/2}", 15.5);
label(80, 563, "Mo^{6+}", 15.5);
label(243, 566, "S 2s", 15.5);
label(113, 541, "2H", 15.5, BLUE);
label(175, 546, "1T", 15.5, RED);
arrow(pe, [233.49, 135], [232.95, 115], "b", BLUE);
arrow(pe, [233.16, 137], [229.96, 110], "b", BLUE);
arrow(pe, [230.77, 132], [231.64, 126], "r", RED);
arrow(pe, [230.12, 128], [229.79, 114], "r", RED);

// ---- (f) Ag 3d ----
var pf = makePanel({id: "f", left: 370, right: 649, top: 485, bottom: 677, domain: [376, 364],
  major: aTicks, minor: aMinor, divs: [580], letter: "(f)", letterX: 330, yTitleX: 364});
trace(pf, grid(376, 0.2, aBlack1), INK, 1.6, false);
trace(pf, aRed1, RED, 2, true);
trace(pf, aBlue1, BLUE, 2, true);
trace(pf, aFit1, GREEN, 2.6, true);
trace(pf, grid(376, 0.2, aBlack2), INK, 1.6, false);
trace(pf, aRed2, RED, 2, true);
trace(pf, aBlue2, BLUE, 2, true);
trace(pf, aFit2, GREEN, 2.6, true);
finishPanel(pf);
label(373, 498, aNames[0], 15.5);
label(373, 601, aNames[1], 15.5);
label(646, 498, "Ag 3d", 15.5, "#000", "end");
label(530, 502, "Ag 3d{5/2}", 15.5);
label(392, 519, "Ag 3d{3/2}", 15.5);
</script>
</body>
</html>
